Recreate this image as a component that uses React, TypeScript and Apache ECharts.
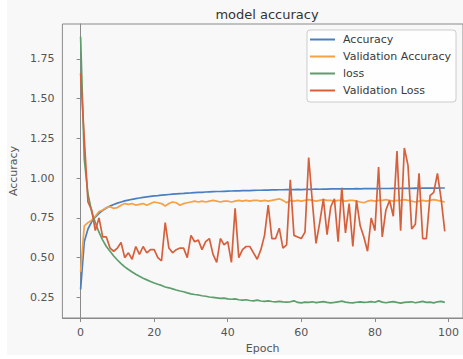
import React, { useEffect, useRef } from "react";
import * as echarts from "echarts";

const FONT = "'DejaVu Sans', sans-serif";

const seriesNames = ["Accuracy", "Validation Accuracy", "loss", "Validation Loss"];
const seriesColors = ["#4a7fc1", "#f7a044", "#5c9f6d", "#d6603c"];

const xTicks = [0, 20, 40, 60, 80, 100];
const yTicks = [0.25, 0.5, 0.75, 1.0, 1.25, 1.5, 1.75];

const accuracy = [
  0.300, 0.600, 0.680, 0.725, 0.755, 0.778, 0.797, 0.812, 0.824, 0.834,
  0.843, 0.850, 0.857, 0.862, 0.867, 0.871, 0.875, 0.879, 0.882, 0.885,
  0.888, 0.890, 0.893, 0.895, 0.897, 0.899, 0.901, 0.903, 0.904, 0.906,
  0.907, 0.909, 0.910, 0.911, 0.913, 0.914, 0.915, 0.916, 0.916, 0.917,
  0.918, 0.919, 0.920, 0.920, 0.921, 0.922, 0.922, 0.923, 0.924, 0.924,
  0.925, 0.925, 0.926, 0.926, 0.927, 0.927, 0.928, 0.928, 0.928, 0.929,
  0.928, 0.929, 0.930, 0.930, 0.931, 0.930, 0.931, 0.931, 0.932, 0.932,
  0.932, 0.933, 0.932, 0.933, 0.933, 0.934, 0.933, 0.934, 0.934, 0.934,
  0.935, 0.934, 0.935, 0.935, 0.935, 0.936, 0.935, 0.936, 0.936, 0.936,
  0.936, 0.937, 0.936, 0.937, 0.937, 0.937, 0.938, 0.937, 0.938, 0.938,
];

const valAccuracy = [
  0.41, 0.70, 0.72, 0.735, 0.76, 0.79, 0.80, 0.815, 0.82, 0.81,
  0.815, 0.83, 0.84, 0.835, 0.84, 0.83, 0.835, 0.84, 0.83, 0.84,
  0.85, 0.845, 0.84, 0.825, 0.84, 0.85, 0.845, 0.83, 0.84, 0.845,
  0.85, 0.855, 0.85, 0.855, 0.85, 0.855, 0.86, 0.855, 0.85, 0.855,
  0.855, 0.85, 0.855, 0.86, 0.855, 0.86, 0.855, 0.86, 0.86, 0.855,
  0.86, 0.855, 0.86, 0.865, 0.87, 0.86, 0.845, 0.86, 0.855, 0.86,
  0.855, 0.86, 0.865, 0.86, 0.855, 0.86, 0.865, 0.86, 0.86, 0.855,
  0.86, 0.86, 0.855, 0.86, 0.86, 0.855, 0.85, 0.845, 0.855, 0.86,
  0.855, 0.86, 0.86, 0.865, 0.86, 0.855, 0.86, 0.86, 0.865, 0.86,
  0.855, 0.85, 0.855, 0.86, 0.855, 0.86, 0.865, 0.86, 0.855, 0.85,
];

const loss = [
  1.89, 1.12, 0.90, 0.79, 0.72, 0.66, 0.61, 0.57, 0.54, 0.51,
  0.485, 0.462, 0.442, 0.425, 0.41, 0.395, 0.382, 0.37, 0.36, 0.35,
  0.34, 0.332, 0.325, 0.315, 0.31, 0.303, 0.296, 0.29, 0.285, 0.278,
  0.272, 0.268, 0.265, 0.26, 0.257, 0.252, 0.25, 0.247, 0.243, 0.245,
  0.24, 0.238, 0.24, 0.235, 0.232, 0.235, 0.23, 0.228, 0.232, 0.227,
  0.225, 0.228, 0.224, 0.222, 0.225, 0.222, 0.22, 0.222, 0.228, 0.218,
  0.215, 0.22, 0.218, 0.222, 0.217, 0.22, 0.223, 0.218, 0.215, 0.218,
  0.222, 0.226, 0.22, 0.217, 0.215, 0.219, 0.222, 0.218, 0.22, 0.223,
  0.219, 0.228, 0.22, 0.216, 0.22, 0.223, 0.218, 0.214, 0.218, 0.22,
  0.222, 0.216, 0.22, 0.225, 0.218, 0.22, 0.215, 0.222, 0.225, 0.218,
];

const valLoss = [
  1.66, 1.25, 0.85, 0.80, 0.67, 0.75, 0.63, 0.63, 0.56, 0.54,
  0.56, 0.595, 0.50, 0.53, 0.49, 0.57, 0.52, 0.57, 0.53, 0.55,
  0.55, 0.50, 0.48, 0.72, 0.56, 0.53, 0.55, 0.56, 0.56, 0.50,
  0.64, 0.60, 0.61, 0.55, 0.60, 0.62, 0.52, 0.47, 0.62, 0.58,
  0.60, 0.47, 0.81, 0.50, 0.55, 0.57, 0.57, 0.53, 0.49, 0.55,
  0.64, 0.83, 0.62, 0.62, 0.685, 0.56, 0.58, 0.99, 0.64, 0.63,
  0.62, 0.66, 1.13, 0.85, 0.59, 0.72, 0.87, 0.645, 0.82, 0.87,
  0.60, 0.94, 0.655, 0.84, 0.57, 0.86, 0.70, 0.63, 0.54, 0.75,
  0.67, 1.07, 0.63, 0.80, 0.86, 0.76, 1.17, 0.67, 1.19, 1.08,
  0.68, 0.71, 1.03, 0.62, 0.62, 0.89, 0.91, 1.03, 0.87, 0.665,
];

const allSeries = [accuracy, valAccuracy, loss, valLoss];

export default function App() {
  const ref = useRef<HTMLDivElement>(null);

  useEffect(() => {
    if (!ref.current) return;
    const chart = echarts.init(ref.current, undefined, { renderer: "svg" });
    const axisColor = "#8a8a8a";
    const labelColor = "#555555";

    chart.setOption({
      animation: false,
      backgroundColor: "#ffffff",
      textStyle: { fontFamily: FONT },
      graphic: [
        {
          type: "rect",
          z: -100,
          silent: true,
          shape: { x: 7, y: 0, width: 456, height: 355 },
          style: { fill: "#f8f8f8" },
        },
      ],
      title: {
        text: "model accuracy",
        left: 262,
        textAlign: "center",
        top: 3,
        textStyle: {
          fontFamily: FONT,
          fontSize: 13,
          fontWeight: "normal",
          color: "#333333",
        },
      },
      grid: {
        left: 62,
        top: 24,
        width: 403,
        height: 299,
        show: true,
        borderColor: axisColor,
        borderWidth: 1,
        backgroundColor: "transparent",
      },
      legend: {
        orient: "vertical",
        left: 307,
        top: 30,
        data: seriesNames,
        icon: "rect",
        itemWidth: 25,
        itemHeight: 2,
        itemGap: 0,
        backgroundColor: "rgba(255,255,255,0.8)",
        borderColor: "#cccccc",
        borderWidth: 1,
        borderRadius: 3,
        padding: [1, 5, 3, 3],
        textStyle: {
          fontFamily: FONT,
          fontSize: 11,
          color: "#3a3a3a",
          lineHeight: 17,
          padding: [0, 0, 0, 3],
        },
      },
      xAxis: {
        type: "value",
        min: -4.95,
        max: 103.95,
        name: "Epoch",
        nameLocation: "middle",
        nameGap: 25,
        nameTextStyle: { fontFamily: FONT, fontSize: 11, color: labelColor },
        axisLine: { show: true, lineStyle: { color: axisColor, width: 1 } },
        axisTick: {
          show: true,
          length: 4,
          customValues: xTicks,
          lineStyle: { color: axisColor },
        },
        axisLabel: {
          customValues: xTicks,
          margin: 9,
          fontFamily: FONT,
          fontSize: 11,
          color: labelColor,
        },
        splitLine: { show: false },
      },
      yAxis: {
        type: "value",
        min: 0.12,
        max: 1.97,
        name: "Accuracy",
        nameLocation: "middle",
        nameGap: 34,
        nameTextStyle: { fontFamily: FONT, fontSize: 11, color: labelColor },
        axisLine: { show: true, lineStyle: { color: axisColor, width: 1 } },
        axisTick: {
          show: true,
          length: 4,
          customValues: yTicks,
          lineStyle: { color: axisColor },
        },
        axisLabel: {
          customValues: yTicks,
          margin: 8,
          fontFamily: FONT,
          fontSize: 11,
          color: labelColor,
          formatter: (v: number) => v.toFixed(2),
        },
        splitLine: { show: false },
      },
      series: allSeries.map((arr, i) => ({
        name: seriesNames[i],
        type: "line",
        data: arr.map((v, idx) => [idx, v]),
        showSymbol: false,
        symbol: "none",
        color: seriesColors[i],
        lineStyle: { color: seriesColors[i], width: 1.7 },
        emphasis: { disabled: true },
      })),
    });

    return () => chart.dispose();
  }, []);

  return (
    <div
      ref={ref}
      style={{ position: "absolute", left: 0, top: 0, width: 463, height: 359 }}
    />
  );
}
